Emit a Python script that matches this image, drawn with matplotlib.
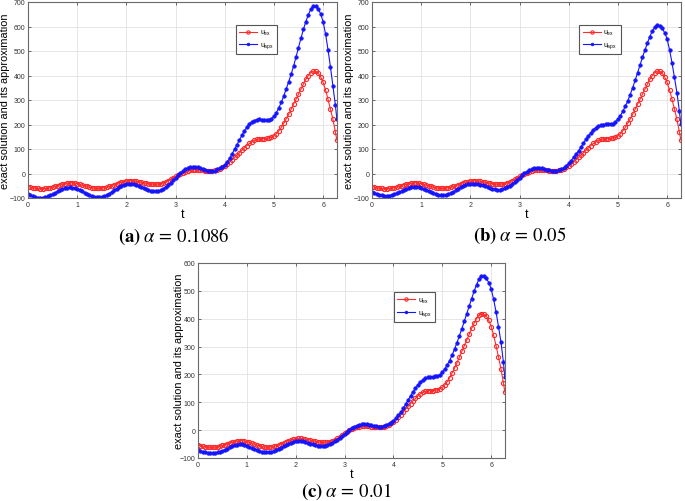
import numpy as np
import matplotlib.pyplot as plt

plt.rcParams['font.family'] = ['Liberation Sans', 'DejaVu Sans']
plt.rcParams['mathtext.fontset'] = 'stix'

# time grid (step 0.05 up to 2*pi)
t = np.append(np.arange(0, 6.26, 0.05), 6.28)

# exact solution (same in every panel)
u_ex = [-54, -56, -58, -60, -61, -62, -62, -61, -60, -58, -55, -52, -49, -46, -43, -41,
        -39, -38, -38, -39, -41, -44, -47, -50, -53, -56, -58, -60, -61, -61, -60, -58,
        -56, -53, -49, -45, -41, -38, -35, -33, -31, -30, -30, -31, -32, -34, -36, -38,
        -40, -42, -43, -44, -44, -43, -41, -38, -34, -29, -24, -18, -12, -6, 0, 4,
        8, 11, 13, 14, 15, 15, 14, 13, 12, 11, 10, 10, 13, 16, 20, 25,
        31, 38, 47, 56, 66, 75, 85, 95, 105, 114, 123, 130, 136, 139, 141, 142,
        142, 143, 145, 149, 154, 162, 174, 188, 205, 223, 242, 262, 283, 303, 323, 344,
        365, 384, 400, 412, 418, 417, 410, 394, 372, 341, 303, 263, 221, 170, 137]

# approximations
u_apx_a = [-85, -89, -93, -96, -98, -99, -98, -96, -93, -89, -84, -79, -73, -68, -64, -60,
           -58, -57, -58, -60, -63, -68, -73, -78, -83, -88, -92, -95, -96, -96, -95, -92,
           -88, -82, -76, -69, -62, -56, -50, -46, -43, -42, -42, -43, -46, -50, -55, -60,
           -65, -69, -72, -73, -73, -72, -68, -62, -55, -47, -38, -28, -18, -8, 2, 10,
           17, 22, 25, 26, 26, 25, 22, 19, 15, 12, 10, 10, 12, 17, 23, 28,
           36, 48, 62, 80, 99, 118, 137, 156, 174, 189, 202, 211, 216, 220, 221, 220,
           218, 217, 218, 223, 233, 248, 268, 290, 316, 345, 374, 405, 438, 476, 514, 552,
           588, 620, 648, 670, 683, 682, 672, 652, 620, 570, 506, 435, 357, 280, 223]

u_apx_b = [-75, -79, -83, -86, -89, -90, -91, -90, -88, -85, -81, -77, -72, -67, -62, -58,
           -55, -54, -54, -56, -59, -63, -68, -73, -77, -81, -85, -87, -88, -88, -87, -84,
           -80, -75, -69, -63, -57, -52, -47, -44, -42, -41, -41, -42, -45, -48, -52, -56,
           -60, -63, -65, -66, -66, -64, -61, -56, -50, -43, -35, -26, -17, -8, 1, 8,
           14, 18, 21, 22, 22, 21, 19, 16, 14, 12, 11, 11, 13, 17, 23, 31,
           41, 53, 66, 79, 92, 108, 124, 139, 153, 166, 177, 186, 193, 197, 200, 201,
           202, 202, 204, 210, 221, 236, 254, 274, 296, 322, 350, 380, 411, 443, 474, 504,
           533, 559, 582, 598, 605, 602, 593, 575, 550, 505, 452, 392, 330, 255, 201]

u_apx_c = [-72, -75, -78, -80, -81, -82, -82, -81, -80, -77, -74, -70, -66, -62, -58, -55,
           -52, -51, -51, -53, -56, -59, -63, -67, -71, -74, -77, -78, -79, -79, -78, -76,
           -72, -68, -63, -58, -53, -49, -45, -42, -40, -39, -39, -40, -42, -45, -48, -51,
           -54, -56, -57, -57, -56, -54, -50, -45, -40, -34, -27, -20, -13, -6, 1, 7,
           12, 16, 19, 21, 21, 21, 19, 17, 15, 14, 13, 13, 15, 18, 22, 27,
           33, 42, 53, 65, 78, 93, 108, 123, 137, 150, 162, 172, 180, 186, 189, 191,
           192, 193, 194, 199, 207, 219, 234, 250, 269, 291, 314, 339, 364, 391, 418, 445,
           472, 498, 522, 542, 553, 552, 545, 530, 507, 470, 424, 372, 317, 245, 190]

captions = [r'$\mathbf{(a)}\;\alpha\,=\,0.1086$',
            r'$\mathbf{(b)}\;\alpha\,=\,0.05$',
            r'$\mathbf{(c)}\;\alpha\,=\,0.01$']

fig = plt.figure(figsize=(6.85, 5.02), dpi=100)

# [left, bottom, width, height] in figure fraction
boxes = [[28 / 685, 1 - 199 / 502, 309 / 685, 196 / 502],
         [372 / 685, 1 - 199 / 502, 309 / 685, 196 / 502],
         [198 / 685, 1 - 459 / 502, 307 / 685, 195 / 502]]
ylims = [(-100, 700), (-100, 700), (-100, 600)]
series = [u_apx_a, u_apx_b, u_apx_c]
legend_pos = [(0.672, 0.885), (0.67, 0.885), (0.638, 0.85)]
cap_pos = [(174, 236), (520, 236), (346, 492)]
ylab_x = [-0.057, -0.057, -0.047]

for box, ylim, apx, lp, cp, cap, yx in zip(boxes, ylims, series, legend_pos, cap_pos,
                                           captions, ylab_x):
    ax = fig.add_axes(box)
    ax.plot(t, u_ex, color='#ff2a2a', lw=0.8, marker='o', ms=3.0, mfc='none',
            mew=0.8, label=r'$\mathregular{u_{ex}}$')
    ax.plot(t, apx, color='#1414ff', lw=0.8, marker='o', ms=2.6, mew=0.4,
            label=r'$\mathregular{u_{apx}}$')
    ax.set_xlim(0, 2 * np.pi)
    ax.set_ylim(*ylim)
    ax.set_xticks(range(7))
    ax.set_yticks(range(ylim[0], ylim[1] + 1, 100))
    ax.grid(True, color='#e2e2e2', lw=0.6)
    ax.set_axisbelow(True)
    ax.tick_params(direction='in', length=2.5, width=0.5, labelsize=5.0,
                   top=True, right=True, pad=2, colors='#333333')
    for s in ax.spines.values():
        s.set_color('#6a6a6a')
        s.set_linewidth(0.8)
    ax.set_xlabel('t', fontsize=9, labelpad=0)
    ax.set_ylabel('exact solution and its approximation', fontsize=7.9)
    ax.yaxis.set_label_coords(yx, 0.5)
    leg = ax.legend(loc='upper left', bbox_to_anchor=lp, fontsize=5, frameon=True,
                    fancybox=False, edgecolor='#555555', framealpha=1,
                    handlelength=2.6, borderpad=0.5, labelspacing=0.5,
                    handletextpad=0.4, borderaxespad=0, markerscale=0.8)
    leg.get_frame().set_linewidth(0.8)
    fig.text(cp[0] / 685, 1 - cp[1] / 502, cap, ha='center', va='center', fontsize=13.5)

fig.savefig('out.png', dpi=100)
